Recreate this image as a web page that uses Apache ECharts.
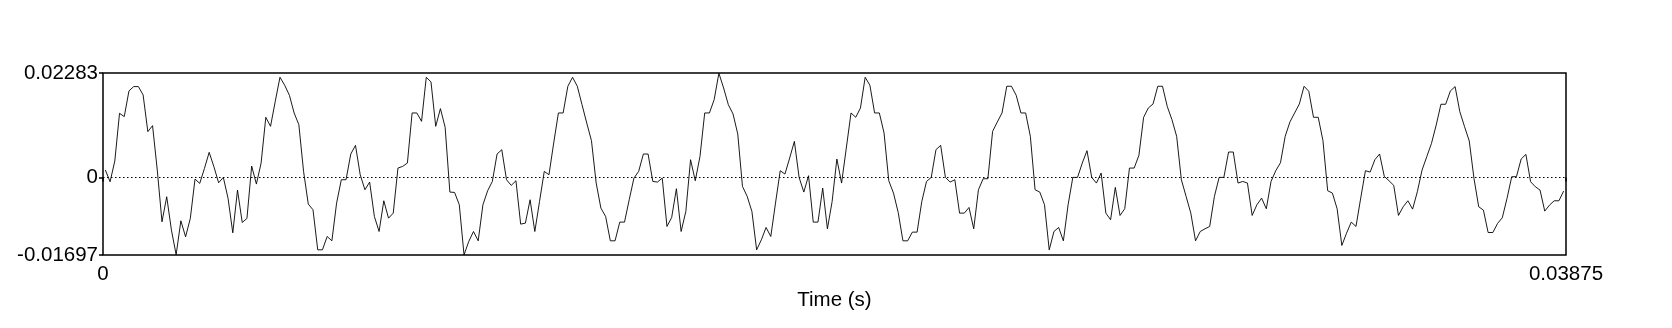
<!DOCTYPE html>
<html>
<head>
<meta charset="utf-8">
<script src="https://cdn.jsdelivr.net/npm/echarts@6/dist/echarts.min.js"></script>
<style>
html,body{margin:0;padding:0;background:#fff;}
#chart{width:1672px;height:328px;}
</style>
</head>
<body>
<div id="chart"></div>
<script>
// Sound pressure samples (8000 Hz)
const sampleRate = 8000;
const amplitudes = [
 0.00161,-0.00095,0.00358,0.01402,0.01329,0.01891,0.01986,0.01986,0.01803,0.01000,
 0.01132,0.00161,-0.00971,-0.00423,-0.01153,-0.01690,-0.00949,-0.01299,-0.00898,-0.00037,
 -0.00131,0.00197,0.00548,0.00234,-0.00117,0.00000,-0.00460,-0.01212,-0.00277,-0.00986,
 -0.00898,0.00248,-0.00146,0.00314,0.01314,0.01117,0.01664,0.02190,0.02015,0.01796,
 0.01409,0.01153,0.00131,-0.00584,-0.00708,-0.01584,-0.01584,-0.01292,-0.01387,-0.00562,
 -0.00051,-0.00051,0.00511,0.00701,0.00058,-0.00270,-0.00102,-0.00854,-0.01183,-0.00511,
 -0.00891,-0.00781,0.00204,0.00241,0.00314,0.01409,0.01409,0.01226,0.02190,0.02088,
 0.01117,0.01504,0.01095,-0.00321,-0.00329,-0.00599,-0.01694,-0.01402,-0.01183,-0.01387,
 -0.00599,-0.00292,-0.00088,0.00511,0.00606,-0.00051,-0.00175,-0.00073,-0.01022,-0.01000,
 -0.00489,-0.01183,-0.00526,0.00131,0.00058,0.00752,0.01409,0.01409,0.01993,0.02190,
 0.01993,0.01591,0.01190,0.00803,-0.00124,-0.00672,-0.00854,-0.01387,-0.01387,-0.00978,
 -0.00978,-0.00489,-0.00015,0.00131,0.00511,0.00511,-0.00088,-0.00102,-0.00015,-0.01073,
 -0.00876,-0.00248,-0.01183,-0.00745,0.00387,-0.00073,0.00460,0.01409,0.01409,0.01701,
 0.02278,0.01956,0.01591,0.01387,0.00949,-0.00197,-0.00416,-0.00745,-0.01584,-0.01365,
 -0.01095,-0.01292,-0.00562,0.00146,0.00073,0.00423,0.00788,0.00000,-0.00321,0.00037,
 -0.00978,-0.00978,-0.00234,-0.01124,-0.00526,0.00402,-0.00124,0.00642,0.01409,0.01314,
 0.01518,0.02190,0.02015,0.01409,0.01409,0.00971,-0.00073,-0.00343,-0.00767,-0.01387,
 -0.01387,-0.01197,-0.01197,-0.00526,-0.00088,0.00000,0.00606,0.00701,0.00000,-0.00102,
 -0.00051,-0.00781,-0.00781,-0.00657,-0.01124,-0.00270,-0.00029,-0.00029,0.01007,0.01212,
 0.01409,0.01993,0.01993,0.01796,0.01409,0.01409,0.00898,-0.00270,-0.00321,-0.00599,
 -0.01584,-0.01183,-0.01095,-0.01387,-0.00599,0.00000,0.00000,0.00314,0.00584,0.00000,
 -0.00124,0.00095,-0.00781,-0.00927,-0.00219,-0.00832,-0.00686,0.00204,0.00204,0.00482,
 0.01314,0.01518,0.01606,0.01993,0.01993,0.01555,0.01263,0.00898,-0.00051,-0.00416,
 -0.00781,-0.01387,-0.01183,-0.01124,-0.01073,-0.00416,0.00000,0.00000,0.00555,0.00555,
 -0.00124,-0.00088,-0.00124,-0.00832,-0.00599,-0.00453,-0.00686,-0.00088,0.00146,0.00321,
 0.00898,0.01212,0.01409,0.01606,0.01993,0.01883,0.01314,0.01314,0.00803,-0.00292,
 -0.00343,-0.00686,-0.01489,-0.01219,-0.00978,-0.01073,-0.00453,0.00146,0.00117,0.00387,
 0.00511,0.00022,-0.00073,-0.00175,-0.00832,-0.00642,-0.00511,-0.00694,-0.00314,0.00161,
 0.00453,0.00745,0.01146,0.01599,0.01599,0.01891,0.01986,0.01438,0.01110,0.00796,
 -0.00022,-0.00642,-0.00715,-0.01205,-0.01205,-0.01007,-0.00883,-0.00460,0.00015,0.00015,
 0.00402,0.00504,-0.00095,-0.00204,-0.00277,-0.00737,-0.00606,-0.00511,-0.00511,-0.00299
];
const xTickValues = [0, 0.03875];
const xTickLabels = ['0', '0.03875'];
const yTickValues = [-0.01697, 0, 0.02283];
const yTickLabels = ['-0.01697', '0', '0.02283'];
const xName = 'Time (s)';

const points = amplitudes.map((v, i) => [(i + 0.5) / sampleRate, v]);

const FONT = 'Liberation Sans';
const FS = 20.5;
const chart = echarts.init(document.getElementById('chart'), null, {renderer: 'canvas'});
chart.setOption({
  animation: false,
  backgroundColor: '#fff',
  grid: {left: 103, right: 106, top: 73, bottom: 73, show: true, borderColor: '#000', borderWidth: 1.5, backgroundColor: 'transparent'},
  xAxis: {
    type: 'value',
    min: xTickValues[0], max: xTickValues[1],
    name: xName, nameLocation: 'middle', nameGap: 30,
    nameTextStyle: {fontFamily: FONT, fontSize: FS, color: '#000'},
    axisLine: {show: false},
    splitLine: {show: false},
    axisTick: {show: true, inside: false, length: 4, lineStyle: {color: '#000', width: 1.5}, customValues: xTickValues},
    axisLabel: {
      fontFamily: FONT, fontSize: FS, color: '#000', margin: 9,
      customValues: xTickValues,
      formatter: (val) => { const k = xTickValues.findIndex(t => Math.abs(t - val) < 1e-9); return k >= 0 ? xTickLabels[k] : ''; }
    }
  },
  yAxis: {
    type: 'value',
    min: yTickValues[0], max: yTickValues[2],
    axisLine: {show: false},
    splitLine: {show: false},
    axisTick: {show: true, inside: false, length: 4, lineStyle: {color: '#000', width: 1.5}, customValues: yTickValues},
    axisLabel: {
      fontFamily: FONT, fontSize: FS, color: '#000', margin: 5,
      customValues: yTickValues,
      formatter: (val) => { const k = yTickValues.findIndex(t => Math.abs(t - val) < 1e-9); return k >= 0 ? yTickLabels[k] : ''; }
    }
  },
  series: [{
    type: 'line',
    data: points,
    showSymbol: false,
    symbol: 'none',
    lineStyle: {color: '#000', width: 0.9},
    markLine: {
      silent: true, symbol: 'none', animation: false,
      label: {show: false},
      lineStyle: {color: '#000', width: 1, type: [1.5, 2.5]},
      data: [{yAxis: 0}]
    }
  }]
});
</script>
</body>
</html>
